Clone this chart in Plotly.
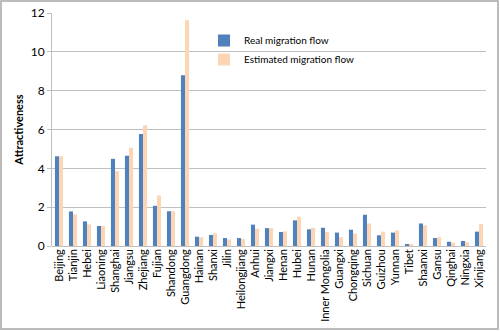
import plotly.graph_objects as go

provinces = ["Beijing", "Tianjin", "Hebei", "Liaoning", "Shanghai", "Jiangsu", "Zhejiang",
             "Fujian", "Shandong", "Guangdong", "Hainan", "Shanxi", "Jilin", "Heilongjiang",
             "Anhui", "Jiangxi", "Henan", "Hubei", "Hunan", "Inner Mongolia", "Guangxi",
             "Chongqing", "Sichuan", "Guizhou", "Yunnan", "Tibet", "Shaanxi", "Gansu",
             "Qinghai", "Ningxia", "Xinjiang"]
real_flow = [4.62, 1.78, 1.27, 1.03, 4.49, 4.65, 5.77, 2.07, 1.79, 8.79, 0.48, 0.57, 0.41, 0.41,
             1.10, 0.92, 0.72, 1.32, 0.86, 0.94, 0.69, 0.84, 1.61, 0.55, 0.69, 0.07, 1.16, 0.41,
             0.22, 0.26, 0.74]
estimated_flow = [4.62, 1.63, 1.11, 1.03, 3.85, 5.06, 6.22, 2.60, 1.79, 11.63, 0.45, 0.65, 0.34, 0.36,
                  0.89, 0.92, 0.75, 1.51, 0.94, 0.72, 0.45, 0.65, 1.16, 0.74, 0.80, 0.10, 1.06, 0.46,
                  0.17, 0.20, 1.13]
y_ticks = [0, 2, 4, 6, 8, 10, 12]

fig = go.Figure()
fig.add_trace(go.Bar(x=provinces, y=real_flow, name="Real migration flow",
                     marker=dict(color="#4F81BD", line=dict(width=0))))
fig.add_trace(go.Bar(x=provinces, y=estimated_flow, name="Estimated migration flow",
                     marker=dict(color="#FCD5B5", line=dict(width=0))))

L, R, T, B = 52, 14, 13, 85
W, H = 500, 331
pw, ph = W - L - R, H - T - B

fig.update_layout(
    width=W, height=H,
    margin=dict(l=L, r=R, t=T, b=B, autoexpand=False),
    paper_bgcolor="white", plot_bgcolor="white",
    barmode="group", bargap=0.42, bargroupgap=0.0,
    font=dict(family="Lato, Carlito, Liberation Sans, sans-serif", color="#000000"),
    showlegend=True,
    legend=dict(x=(204 - L) / pw, y=(246 - 26) / ph, xanchor="left", yanchor="top",
                bgcolor="rgba(0,0,0,0)", font=dict(size=10), tracegroupgap=0,
                itemwidth=30),
    xaxis=dict(tickangle=-90, tickfont=dict(size=11), showgrid=False,
               showline=False, ticks="", type="category", dtick=1,
               tickmode="linear", automargin=False),
    yaxis=dict(range=[0, 12], tickvals=y_ticks, tickfont=dict(size=12),
               showgrid=True, gridcolor="#BFBFBF", gridwidth=1,
               showline=True, linecolor="#BFBFBF", linewidth=1,
               ticks="outside", ticklen=4, tickcolor="#BFBFBF",
               zeroline=True, zerolinecolor="#BFBFBF", zerolinewidth=1,
               automargin=False,
               title=dict(text="<b>Attractiveness</b>", font=dict(size=11), standoff=4)),
    shapes=[dict(type="rect", xref="paper", yref="paper",
                 x0=(1 - L) / pw, x1=(W - 2 - L) / pw,
                 y0=(246 - (H - 2)) / ph, y1=(246 - 1) / ph,
                 line=dict(color="#A6A6A6", width=1.5), fillcolor="rgba(0,0,0,0)")],
)

fig.write_html("out.html")
